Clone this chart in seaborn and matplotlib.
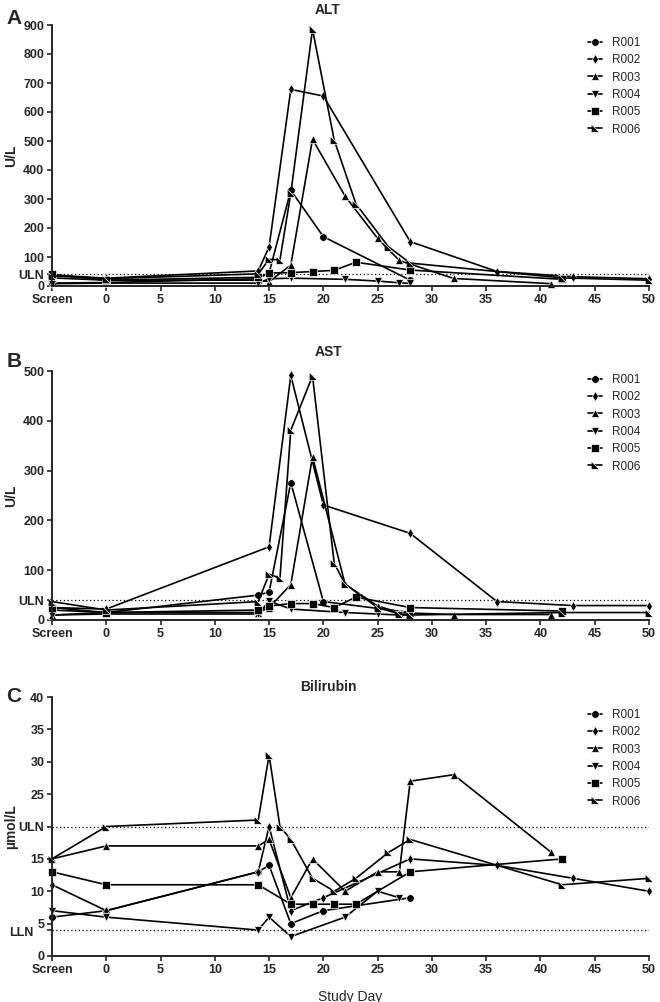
import matplotlib
matplotlib.use('Agg')
import matplotlib.pyplot as plt
import seaborn as sns
import pandas as pd

subjects = ['R001', 'R002', 'R003', 'R004', 'R005', 'R006']

# x = -5 is the "Screen" visit
day_ticks = [-5, 0, 5, 10, 15, 20, 25, 30, 35, 40, 45, 50]
day_labels = ['Screen', '0', '5', '10', '15', '20', '25', '30', '35', '40', '45', '50']

# ALT (U/L)
alt_days = {
    'R001': [-5, 0, 14, 15, 17, 20, 28],
    'R002': [-5, 0, 14, 15, 17, 20, 28, 36, 43, 50],
    'R003': [-5, 0, 14, 15, 17, 19, 22, 25, 27, 32, 41],
    'R004': [-5, 0, 14, 15, 17, 22, 25, 27, 28],
    'R005': [-5, 0, 14, 15, 17, 19, 21, 23, 28, 42],
    'R006': [-5, 0, 14, 15, 16, 17, 19, 21, 23, 26, 28, 42, 50],
}
alt_vals = {
    'R001': [10, 12, 25, 45, 330, 170, 20],
    'R002': [38, 27, 52, 135, 678, 655, 153, 50, 32, 25],
    'R003': [28, 20, 20, 15, 72, 506, 310, 164, 88, 26, 8],
    'R004': [8, 10, 10, 25, 27, 23, 17, 11, 9],
    'R005': [40, 20, 30, 45, 46, 50, 54, 82, 55, 23],
    'R006': [35, 25, 42, 92, 90, 320, 885, 503, 283, 135, 79, 28, 20],
}

# AST (U/L)
ast_days = {
    'R001': [-5, 0, 14, 15, 17, 20, 28],
    'R002': [-5, 0, 15, 17, 20, 28, 36, 43, 50],
    'R003': [-5, 0, 14, 15, 17, 19, 22, 25, 27, 28, 32, 41],
    'R004': [-5, 0, 14, 15, 17, 22, 25, 27, 28],
    'R005': [-5, 0, 14, 15, 17, 19, 21, 23, 28, 42],
    'R006': [-5, 0, 14, 15, 16, 17, 19, 21, 22, 25, 27, 28, 42, 50],
}
ast_vals = {
    'R001': [20, 15, 50, 56, 276, 37, 15],
    'R002': [25, 22, 147, 491, 231, 174, 37, 29, 29],
    'R003': [10, 15, 15, 25, 71, 328, 72, 28, 15, 14, 11, 11],
    'R004': [10, 12, 12, 38, 22, 15, 12, 10, 10],
    'R005': [25, 15, 20, 28, 33, 33, 25, 46, 25, 18],
    'R006': [37, 20, 37, 92, 84, 381, 490, 114, 72, 25, 12, 10, 15, 15],
}

# Bilirubin (umol/L)
bili_days = {
    'R001': [-5, 0, 14, 15, 17, 20, 28],
    'R002': [-5, 0, 14, 15, 17, 20, 28, 36, 43, 50],
    'R003': [-5, 0, 14, 15, 17, 19, 22, 25, 27, 28, 32, 41],
    'R004': [-5, 0, 14, 15, 17, 22, 25, 27],
    'R005': [-5, 0, 14, 17, 19, 21, 23, 28, 42],
    'R006': [-5, 0, 14, 15, 16, 17, 19, 21, 23, 26, 28, 42, 50],
}
bili_vals = {
    'R001': [6, 7, 13, 14, 5, 7, 9],
    'R002': [11, 7, 13, 20, 7, 9, 15, 14, 12, 10],
    'R003': [15, 17, 17, 18, 9, 15, 10, 13, 13, 27, 28, 16],
    'R004': [7, 6, 4, 6, 3, 6, 10, 9],
    'R005': [13, 11, 11, 8, 8, 8, 8, 13, 15],
    'R006': [15, 20, 21, 31, 20, 18, 12, 10, 12, 16, 18, 11, 12],
}

alt_uln = 40
ast_uln = 40
bili_uln = 20
bili_lln = 4

sns.set_style('ticks')
plt.rcParams['font.family'] = ['Liberation Sans', 'DejaVu Sans']

markers = {'R001': 'o', 'R002': 'd', 'R003': '^', 'R004': 'v', 'R005': 's',
           'R006': [(-1, -1), (1, -1), (-1, 1)]}

W, H = 660, 1002
fig = plt.figure(figsize=(6.6, 10.02), dpi=100)


def fbox(left, top, right, bottom):
    return [left / W, 1 - bottom / H, (right - left) / W, (bottom - top) / H]


def panel(ax, days, vals, ymax, yticks, ylabels, ylabel, title, letter, title_y, leg_top):
    rows = []
    for s in subjects:
        for d, v in zip(days[s], vals[s]):
            rows.append((s, d, v))
    df = pd.DataFrame(rows, columns=['subject', 'day', 'value'])
    sns.lineplot(data=df, x='day', y='value', hue='subject', style='subject',
                 markers=markers, dashes=False, palette=['black'] * 6,
                 estimator=None, sort=False, ax=ax, linewidth=1.2,
                 markersize=5.5, markeredgewidth=0.5, clip_on=False)
    ax.set_xlim(-5, 50)
    ax.set_ylim(0, ymax)
    ax.set_xticks(day_ticks)
    ax.set_xticklabels(day_labels)
    ax.set_yticks(yticks)
    ax.set_yticklabels(ylabels)
    ax.tick_params(labelsize=9, width=1.2, length=3.5, pad=2)
    for t in ax.get_xticklabels() + ax.get_yticklabels():
        t.set_fontweight('bold')
    ax.set_xlabel('')
    ax.set_ylabel(ylabel, fontsize=10, fontweight='bold')
    # keep the y title inside the canvas, left of the tick labels
    ax.yaxis.set_label_coords(-34 / 597, 0.5)
    sns.despine(ax=ax)
    for sp in ['left', 'bottom']:
        ax.spines[sp].set_linewidth(1.4)
    handles, labels = ax.get_legend_handles_labels()
    ax.legend(handles, labels, loc='upper left',
              bbox_to_anchor=(588 / W, 1 - leg_top / H), bbox_transform=fig.transFigure,
              frameon=False, fontsize=8.5, handlelength=1.2, handletextpad=0.8,
              labelspacing=0.45, borderaxespad=0, borderpad=0)
    fig.text(328 / W, 1 - title_y / H, title, ha='center', va='center',
             fontsize=10, fontweight='bold')
    fig.text(14 / W, 1 - (title_y + 9) / H, letter, ha='center', va='center',
             fontsize=15, fontweight='bold')


axA = fig.add_axes(fbox(52, 25, 649, 286))
axA.axhline(alt_uln, color='black', lw=0.9, ls=(0, (1, 2)), zorder=0)
panel(axA, alt_days, alt_vals, 900,
      [0, alt_uln] + list(range(100, 901, 100)),
      ['0', 'ULN'] + [str(v) for v in range(100, 901, 100)],
      'U/L', 'ALT', 'A', 10, 37)

axB = fig.add_axes(fbox(52, 371, 649, 620))
axB.axhline(ast_uln, color='black', lw=0.9, ls=(0, (1, 2)), zorder=0)
panel(axB, ast_days, ast_vals, 500,
      [0, ast_uln] + list(range(100, 501, 100)),
      ['0', 'ULN'] + [str(v) for v in range(100, 501, 100)],
      'U/L', 'AST', 'B', 352, 374)

axC = fig.add_axes(fbox(52, 697, 649, 956))
axC.axhline(bili_uln, color='black', lw=0.9, ls=(0, (1, 2)), zorder=0)
axC.axhline(bili_lln, color='black', lw=0.9, ls=(0, (1, 2)), zorder=0)
panel(axC, bili_days, bili_vals, 40,
      [0, bili_lln, 5, 10, 15, bili_uln, 25, 30, 35, 40],
      ['0', '', '5', '10', '15', 'ULN', '25', '30', '35', '40'],
      '\u00b5mol/L', 'Bilirubin', 'C', 687, 709)
# LLN label sits just left of the "5" tick label, as in the source figure
axC.annotate('LLN', xy=(0, bili_lln), xycoords=('axes fraction', 'data'),
             xytext=(-13, -2), textcoords='offset points', ha='right', va='center',
             fontsize=9, fontweight='bold')
axC.set_xlabel('Study Day', fontsize=10, labelpad=10)

fig.savefig('out.png', dpi=100)
